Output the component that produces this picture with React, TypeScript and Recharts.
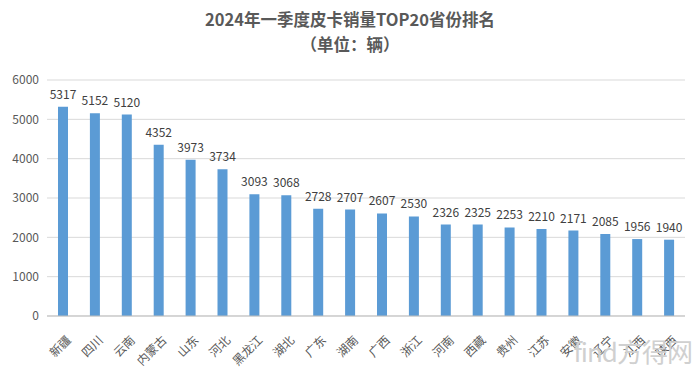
import React from "react";
import { BarChart, Bar, XAxis, YAxis, CartesianGrid, LabelList } from "recharts";

const provinces = ["新疆", "四川", "云南", "内蒙古", "山东", "河北", "黑龙江", "湖北", "广东", "湖南", "广西", "浙江", "河南", "西藏", "贵州", "江苏", "安徽", "辽宁", "江西", "陕西"];
const sales = [5317, 5152, 5120, 4352, 3973, 3734, 3093, 3068, 2728, 2707, 2607, 2530, 2326, 2325, 2253, 2210, 2171, 2085, 1956, 1940];
const yTicks = [0, 1000, 2000, 3000, 4000, 5000, 6000];

const data = provinces.map((p, i) => ({ name: p, value: sales[i] }));

const FONT = '"Noto Sans CJK SC", "Noto Sans", sans-serif';

const XTick = (props: any) => {
  const { x, y, payload } = props;
  return (
    <g transform={`translate(${x + 5},${y + 13})`}>
      <text transform="rotate(-45)" textAnchor="end" dominantBaseline="central" fontSize={12} fill="#595959" fontFamily={FONT}>
        {payload.value}
      </text>
    </g>
  );
};

export default function App() {
  return (
    <div style={{ position: "absolute", left: 0, top: 0, width: 700, height: 373, background: "#fff", fontFamily: FONT }}>
      <div style={{ position: "absolute", left: 0, top: 7, width: 700, textAlign: "center", fontSize: 16.5, fontWeight: "bold", color: "#595959", lineHeight: "25px" }}>
        2024年一季度皮卡销量TOP20省份排名
        <br />
        （单位：辆）
      </div>
      <BarChart width={700} height={373} data={data} margin={{ top: 80, right: 15, bottom: 0, left: 0 }}>
        <CartesianGrid vertical={false} stroke="#d9d9d9" />
        <XAxis dataKey="name" tick={<XTick />} tickLine={false} axisLine={{ stroke: "#bfbfbf" }} interval={0} height={57} />
        <YAxis ticks={yTicks} domain={[0, 6000]} width={47} tickLine={false} axisLine={false} tick={{ fontSize: 12, fill: "#595959", fontFamily: FONT }} />
        <Bar dataKey="value" fill="#5b9bd5" barSize={10} isAnimationActive={false}>
          <LabelList dataKey="value" position="top" offset={8} style={{ fontSize: 12, fill: "#404040", fontFamily: FONT }} />
        </Bar>
      </BarChart>
      <div style={{ position: "absolute", right: 8, bottom: 4, fontSize: 26, color: "#d0d0d0", fontFamily: FONT, letterSpacing: -1 }}>find方得网</div>
    </div>
  );
}
